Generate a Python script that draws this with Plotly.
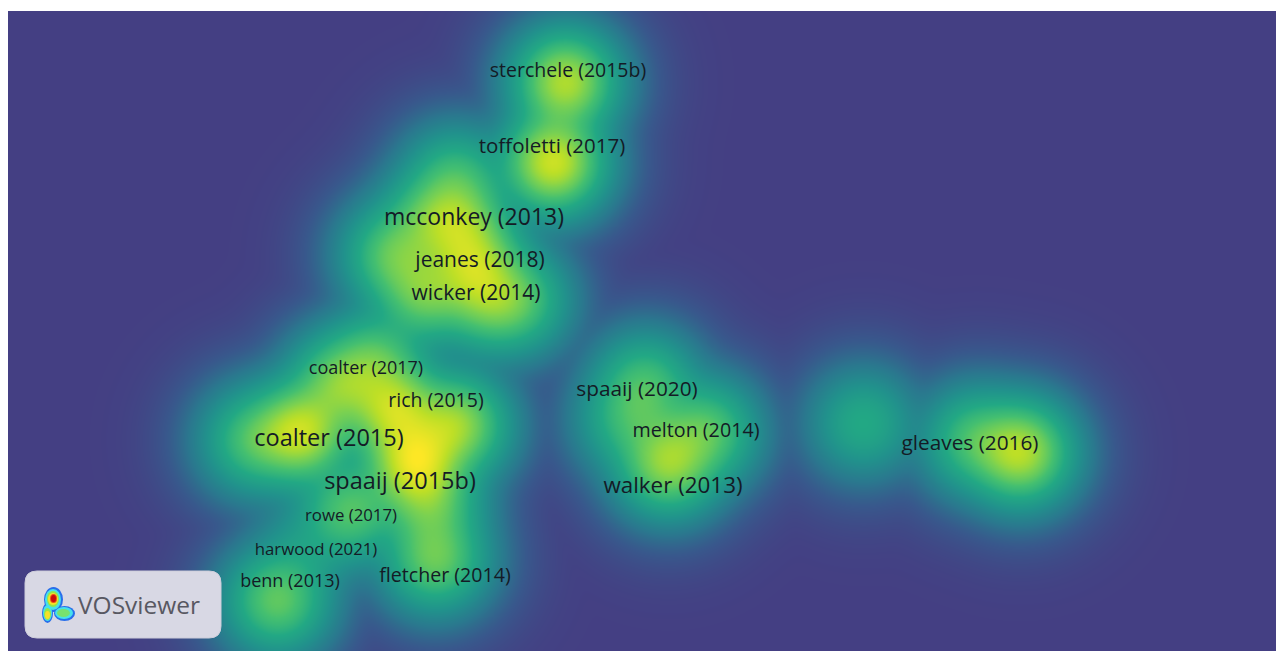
import numpy as np
import plotly.graph_objects as go

# ---- data (map coordinates) ----
labels = ["sterchele (2015b)", "toffoletti (2017)", "mcconkey (2013)", "jeanes (2018)",
          "wicker (2014)", "coalter (2017)", "rich (2015)", "coalter (2015)",
          "spaaij (2015b)", "rowe (2017)", "harwood (2021)", "benn (2013)",
          "fletcher (2014)", "spaaij (2020)", "melton (2014)", "walker (2013)",
          "gleaves (2016)"]
label_x = [568, 552, 474, 480, 476, 366, 436, 329, 400, 351, 316, 290, 445, 637, 696, 673, 970]
label_y = [72, 148, 219, 262, 295, 369, 402, 440, 483, 517, 551, 582, 577, 391, 432, 487, 445]
label_size = [19.5, 20.5, 23, 21, 21, 18, 19.5, 23.5, 23.5, 16.8, 16.8, 18, 19.6, 20.8, 19.7, 22.4, 20.8]

# density: sample positions and the density level read at each one (0 = background, 1 = peak)
dens_x = [565, 553,
          460, 475, 485, 395, 430, 455, 425, 515, 415,
          300, 340, 375, 395, 415, 455, 350, 430, 255, 305,
          277, 435,
          645, 630, 705, 668,
          1020, 975, 863]
dens_y = [82, 162,
          225, 265, 300, 255, 220, 180, 292, 300, 330,
          432, 385, 362, 410, 462, 425, 510, 505, 440, 550,
          600, 558,
          385, 420, 432, 462,
          452, 440, 423]
dens_level = [0.89, 0.93,
              0.93, 0.95, 0.9, 0.82, 0.88, 0.78, 0.85, 0.84, 0.62,
              0.94, 0.87, 0.84, 0.95, 1.0, 0.9, 0.75, 0.85, 0.8, 0.58,
              0.77, 0.8,
              0.75, 0.75, 0.8, 0.88,
              0.91, 0.78, 0.6]

X0, X1, Y0, Y1 = 8, 1284, 11, 651
sigma = 25.0
gamma = 0.25  # colour level = density ** gamma

px = np.array(dens_x, float)
py = np.array(dens_y, float)
t = np.array(dens_level, float) ** (1.0 / gamma)
A = np.exp(-((px[:, None] - px[None, :]) ** 2 + (py[:, None] - py[None, :]) ** 2) / (2 * sigma ** 2))
w = t.copy() * 0.5
eta = 1.0 / np.linalg.norm(A, 2) ** 2
for _ in range(20000):
    w = np.maximum(0.0, w - eta * A.T @ (A @ w - t))

gx = np.linspace(X0, X1, 320)
gy = np.linspace(Y0, Y1, 161)
GX, GY = np.meshgrid(gx, gy)
Z = np.zeros_like(GX)
for x, y, wi in zip(px, py, w):
    Z += wi * np.exp(-((GX - x) ** 2 + (GY - y) ** 2) / (2 * sigma ** 2))
L = np.clip(Z, 0, None) ** gamma

colorscale = [
    [0.00, "rgb(68,63,131)"],
    [0.15, "rgb(56,88,140)"],
    [0.30, "rgb(42,120,142)"],
    [0.45, "rgb(33,145,140)"],
    [0.60, "rgb(34,168,132)"],
    [0.72, "rgb(68,191,112)"],
    [0.82, "rgb(122,209,81)"],
    [0.91, "rgb(189,223,38)"],
    [1.00, "rgb(253,231,37)"],
]

fig = go.Figure()
fig.add_trace(go.Heatmap(x=gx, y=gy, z=L, zmin=0, zmax=1.0, colorscale=colorscale,
                         zsmooth="best", showscale=False, hoverinfo="skip"))
fig.add_trace(go.Scatter(x=label_x, y=label_y, mode="text", text=labels,
                         textposition="middle center",
                         textfont=dict(family="Open Sans", size=label_size, color="rgb(20,27,38)"),
                         hoverinfo="skip", showlegend=False))

# VOSviewer logo box
bx0, bx1, by0, by1, r = 25, 221, 571, 638, 12
path = (f"M {bx0+r},{by0} L {bx1-r},{by0} Q {bx1},{by0} {bx1},{by0+r} L {bx1},{by1-r} "
        f"Q {bx1},{by1} {bx1-r},{by1} L {bx0+r},{by1} Q {bx0},{by1} {bx0},{by1-r} "
        f"L {bx0},{by0+r} Q {bx0},{by0} {bx0+r},{by0} Z")
shapes = [dict(type="path", path=path, xref="x", yref="y", fillcolor="rgb(216,216,228)",
               line=dict(color="rgb(205,205,218)", width=1), layer="above")]
icon = [
    (44, 587, 63, 612, "rgb(40,110,235)"), (42, 603, 53, 623, "rgb(40,110,235)"),
    (54, 606, 75, 621, "rgb(40,110,235)"),
    (45, 589, 61, 610, "rgb(70,225,235)"), (43, 605, 52, 621, "rgb(70,225,235)"),
    (55, 607, 73, 619, "rgb(70,225,235)"),
    (47, 591, 59, 607, "rgb(150,230,70)"), (44, 608, 51, 620, "rgb(150,230,70)"),
    (57, 609, 70, 617, "rgb(120,225,110)"),
    (48, 593, 58, 605, "rgb(245,225,40)"), (45, 611, 50, 619, "rgb(245,225,40)"),
    (50, 594, 57, 603, "rgb(235,80,20)"),
    (51, 595, 56, 602, "rgb(200,10,10)"),
]
for x0, y0, x1, y1, c in icon:
    shapes.append(dict(type="circle", xref="x", yref="y", x0=x0, x1=x1, y0=y0, y1=y1,
                       fillcolor=c, line=dict(width=0), layer="above"))

fig.add_annotation(x=76, y=604, xref="x", yref="y", text="VOSviewer", showarrow=False,
                   xanchor="left", yanchor="middle",
                   font=dict(family="Open Sans", size=24.5, color="rgb(88,88,98)"))

fig.update_layout(
    width=1276, height=643,
    margin=dict(l=0, r=0, t=3, b=0, pad=0),
    paper_bgcolor="white", plot_bgcolor="rgb(68,63,131)",
    xaxis=dict(range=[X0, X1], visible=False, fixedrange=True),
    yaxis=dict(range=[Y1, Y0], visible=False, fixedrange=True),
    shapes=shapes, showlegend=False,
)
fig.write_html("out.html", config={"displayModeBar": False})
